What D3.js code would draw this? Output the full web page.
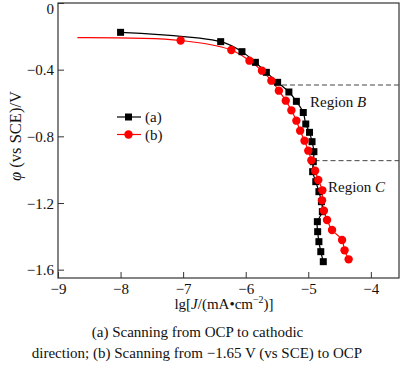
<!DOCTYPE html>
<html>
<head>
<meta charset="utf-8">
<script src="https://cdn.jsdelivr.net/npm/d3@7"></script>
<style>
  body { margin: 0; background: #fff; }
  text { font-family: "Liberation Serif", "Times New Roman", serif; fill: #111; }
</style>
</head>
<body>
<div id="chart"></div>
<script>
// lg J values and potentials
var aX = [-8.00, -6.40, -6.06, -5.845, -5.67, -5.49, -5.31, -5.19, -5.08, -5.04, -4.98, -4.94, -4.91, -4.92, -4.93, -4.88, -4.83, -4.79, -4.775, -4.855, -4.85, -4.83, -4.80, -4.76];
var aY = [-0.176, -0.232, -0.292, -0.356, -0.416, -0.476, -0.534, -0.590, -0.657, -0.726, -0.776, -0.832, -0.892, -0.952, -1.012, -1.072, -1.132, -1.192, -1.252, -1.312, -1.372, -1.432, -1.492, -1.552];

// first point of (b) is the line start, no marker
var bX = [-8.69, -7.04, -6.23, -5.94, -5.74, -5.59, -5.47, -5.36, -5.27, -5.19, -5.13, -5.06, -5.00, -4.95, -4.89, -4.84, -4.775, -4.78, -4.75, -4.70, -4.62, -4.46, -4.42, -4.355];
var bY = [-0.208, -0.225, -0.282, -0.346, -0.406, -0.466, -0.526, -0.586, -0.644, -0.706, -0.766, -0.826, -0.886, -0.944, -1.006, -1.062, -1.124, -1.184, -1.246, -1.302, -1.362, -1.422, -1.484, -1.538];

var xTicks = [-9, -8, -7, -6, -5, -4];
var yTicks = [0, -0.4, -0.8, -1.2, -1.6];

// region boundaries: potential, lgJ where the dashes start, label
var regions = [
  { y: -0.492, x0: -5.42, name: "B" },
  { y: -0.946, x0: -4.90, name: "C" }
];

var W = 400, H = 371;
var mLeft = 58, mRight = 399, mTop = 3, mBottom = 278;
var serif = "'Liberation Serif', 'Times New Roman', serif";

var svg = d3.select("#chart").append("svg")
    .attr("width", W)
    .attr("height", H);

var x = d3.scaleLinear().domain([-9, -3.55]).range([mLeft, mRight]);
var y = d3.scaleLinear().domain([0, -1.65]).range([mTop, mBottom]);

var fmt = function(d) { return d === 0 ? "0" : d3.format(".1f")(d).replace("-", "\u2212"); };

// axes, ticks pointing inwards
var xAxis = svg.append("g")
    .attr("transform", "translate(0," + mBottom + ")")
    .call(d3.axisBottom(x).tickValues(xTicks).tickSizeInner(-6).tickSizeOuter(0)
      .tickFormat(function(d) { return String(d).replace("-", "\u2212"); }));
var yAxis = svg.append("g")
    .attr("transform", "translate(" + mLeft + ",0)")
    .call(d3.axisLeft(y).tickValues(yTicks).tickSizeInner(-6).tickSizeOuter(0).tickFormat(fmt));

[xAxis, yAxis].forEach(function(g) {
  g.attr("font-family", serif).attr("font-size", 15);
  g.select(".domain").remove();
  g.selectAll("line").attr("stroke", "#333");
  g.selectAll("text").style("font-family", serif).style("font-size", "15px").attr("fill", "#111");
});
xAxis.selectAll("text").attr("dy", null).attr("y", 16);
yAxis.selectAll("text").attr("x", -4).attr("dy", function(d) { return d === 0 ? "0.68em" : "0.35em"; });

// frame
svg.append("rect")
    .attr("x", mLeft).attr("y", mTop)
    .attr("width", mRight - mLeft).attr("height", mBottom - mTop)
    .attr("fill", "none").attr("stroke", "#333").attr("stroke-width", 1.2);

// region boundaries
regions.forEach(function(r) {
  svg.append("line")
      .attr("x1", x(r.x0)).attr("x2", mRight)
      .attr("y1", y(r.y)).attr("y2", y(r.y))
      .attr("stroke", "#444").attr("stroke-dasharray", "5,3");
});
svg.append("text").attr("x", 310).attr("y", 107).style("font-size", "15px")
    .text("Region ").append("tspan").style("font-style", "italic").text("B");
svg.append("text").attr("x", 328).attr("y", 192).style("font-size", "15px")
    .text("Region ").append("tspan").style("font-style", "italic").text("C");

var line = d3.line().curve(d3.curveCatmullRom.alpha(0.5))
    .x(function(d) { return x(d[0]); })
    .y(function(d) { return y(d[1]); });

var aData = aX.map(function(v, i) { return [v, aY[i]]; });
var bData = bX.map(function(v, i) { return [v, bY[i]]; });

svg.append("path").datum(bData).attr("d", line)
    .attr("fill", "none").attr("stroke", "#f00").attr("stroke-width", 1.2);
svg.append("path").datum(aData).attr("d", line)
    .attr("fill", "none").attr("stroke", "#000").attr("stroke-width", 1.2);

svg.selectAll(".sq").data(aData).enter().append("rect")
    .attr("x", function(d) { return x(d[0]) - 3.5; })
    .attr("y", function(d) { return y(d[1]) - 3.5; })
    .attr("width", 7).attr("height", 7).attr("fill", "#000");

svg.selectAll(".dot").data(bData.slice(1)).enter().append("circle")
    .attr("cx", function(d) { return x(d[0]); })
    .attr("cy", function(d) { return y(d[1]); })
    .attr("r", 4.2).attr("fill", "#f00");

// legend
var legend = [
  { label: "(a)", color: "#000", shape: "square" },
  { label: "(b)", color: "#f00", shape: "circle" }
];
legend.forEach(function(l, i) {
  var ly = 117 + i * 17.5;
  svg.append("line").attr("x1", 117).attr("x2", 141).attr("y1", ly).attr("y2", ly)
      .attr("stroke", l.color).attr("stroke-width", 1.2);
  if (l.shape === "square") {
    svg.append("rect").attr("x", 125).attr("y", ly - 3.5).attr("width", 7).attr("height", 7).attr("fill", l.color);
  } else {
    svg.append("circle").attr("cx", 128.5).attr("cy", ly).attr("r", 4.2).attr("fill", l.color);
  }
  svg.append("text").attr("x", 145).attr("y", ly + 5).style("font-size", "15px").text(l.label);
});

// axis titles
var xt = svg.append("text").attr("x", 224).attr("y", 309).attr("text-anchor", "middle").style("font-size", "15px");
xt.append("tspan").text("lg[");
xt.append("tspan").style("font-style", "italic").text("J");
xt.append("tspan").text("/(mA\u2022cm");
xt.append("tspan").attr("dy", -6).style("font-size", "10px").text("\u22122");
xt.append("tspan").attr("dy", 6).text(")]");

var yt = svg.append("text").attr("transform", "translate(21,136) rotate(-90)")
    .attr("text-anchor", "middle").style("font-size", "16.5px");
yt.append("tspan").style("font-style", "italic").text("\u03c6");
yt.append("tspan").text(" (vs SCE)/V");

// caption
svg.append("text").attr("x", 197.5).attr("y", 337).attr("text-anchor", "middle")
    .style("font-size", "15px").text("(a) Scanning from OCP to cathodic");
svg.append("text").attr("x", 197).attr("y", 358).attr("text-anchor", "middle")
    .style("font-size", "15px").text("direction; (b) Scanning from \u22121.65 V (vs SCE) to OCP");
</script>
</body>
</html>
